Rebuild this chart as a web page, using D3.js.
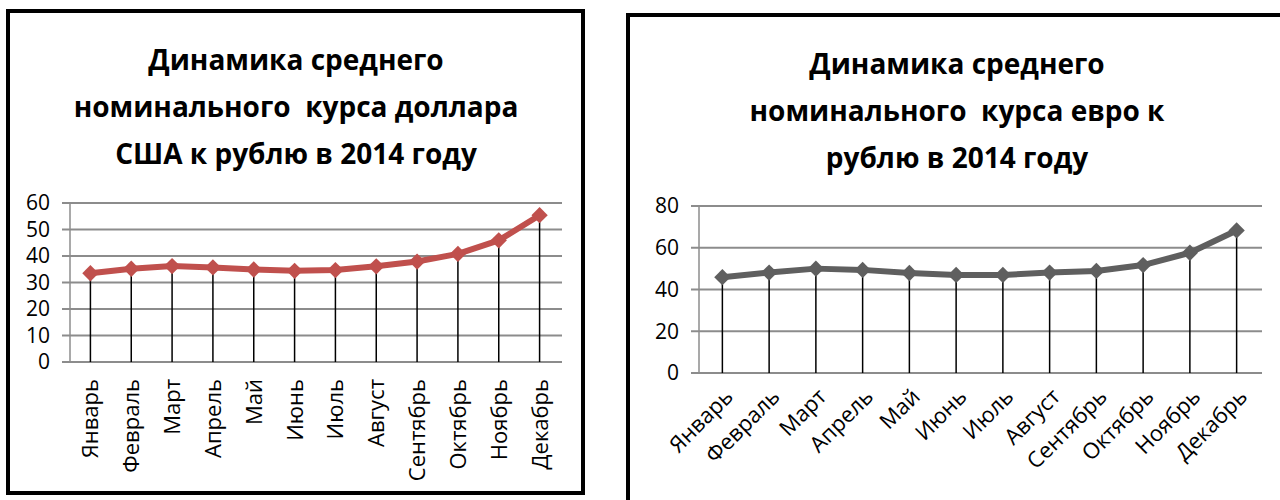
<!DOCTYPE html>
<html>
<head>
<meta charset="utf-8">
<script src="https://cdn.jsdelivr.net/npm/d3@7"></script>
<style>
  body { margin: 0; background: #fff; }
  svg { display: block; font-family: "Open Sans", sans-serif; }
</style>
</head>
<body>
<div id="chart"></div>
<script>
const months = ["Январь", "Февраль", "Март", "Апрель", "Май", "Июнь", "Июль", "Август", "Сентябрь", "Октябрь", "Ноябрь", "Декабрь"];
const usdValues = [33.5, 35.2, 36.2, 35.7, 34.9, 34.4, 34.7, 36.1, 37.9, 40.8, 45.9, 55.4];
const eurValues = [45.9, 48.1, 50.0, 49.4, 47.9, 47.0, 47.0, 48.1, 48.9, 51.7, 57.6, 68.3];
const usdTicks = [0, 10, 20, 30, 40, 50, 60];
const eurTicks = [0, 20, 40, 60, 80];
const usdTitle = ["Динамика среднего", "номинального  курса доллара", "США к рублю в 2014 году"];
const eurTitle = ["Динамика среднего", "номинального  курса евро к", "рублю в 2014 году"];

const svg = d3.select("#chart").append("svg")
    .attr("width", 1280)
    .attr("height", 500);

function drawPanel(opts) {
    const g = svg.append("g");

    // panel frame
    g.append("rect")
        .attr("x", opts.frame[0]).attr("y", opts.frame[1])
        .attr("width", opts.frame[2]).attr("height", opts.frame[3])
        .attr("fill", "#fff").attr("stroke", "#000").attr("stroke-width", 4);

    g.selectAll(".title").data(opts.title).enter()
        .append("text")
        .attr("class", "title")
        .attr("x", opts.titleX)
        .attr("y", (d, i) => opts.titleY + i * 47)
        .attr("text-anchor", "middle")
        .attr("font-size", 28)
        .attr("font-weight", "bold")
        .style("white-space", "pre")
        .text(d => d);

    const x = d3.scaleBand().domain(months).range([opts.x0, opts.x1]);
    const y = d3.scaleLinear().domain(opts.yDomain).range([opts.y0, opts.y1]);

    // gridlines
    g.selectAll(".grid").data(opts.ticks).enter()
        .append("line")
        .attr("x1", opts.x0 - 8).attr("x2", opts.x1 + 2)
        .attr("y1", d => y(d)).attr("y2", d => y(d))
        .attr("stroke", "#8c8c8c").attr("stroke-width", 2);

    // vertical axis
    g.append("line")
        .attr("x1", opts.x0).attr("x2", opts.x0)
        .attr("y1", y(opts.yDomain[0])).attr("y2", y(opts.yDomain[1]))
        .attr("stroke", "#8c8c8c").attr("stroke-width", 1.5);

    g.selectAll(".ylab").data(opts.ticks).enter()
        .append("text")
        .attr("x", opts.x0 - 20)
        .attr("y", d => y(d))
        .attr("dy", "0.35em")
        .attr("text-anchor", "end")
        .attr("font-size", 21)
        .text(d => d);

    const cx = d => x(d) + x.bandwidth() / 2;
    const data = months.map((m, i) => ({ m, v: opts.values[i] }));

    // drop lines
    g.selectAll(".drop").data(data).enter()
        .append("line")
        .attr("x1", d => cx(d.m)).attr("x2", d => cx(d.m))
        .attr("y1", d => y(d.v)).attr("y2", y(0))
        .attr("stroke", "#000").attr("stroke-width", 1.5);

    const line = d3.line().x(d => cx(d.m)).y(d => y(d.v));
    g.append("path")
        .datum(data)
        .attr("d", line)
        .attr("fill", "none")
        .attr("stroke", opts.color)
        .attr("stroke-width", 6)
        .attr("stroke-linejoin", "round");

    g.selectAll(".mark").data(data).enter()
        .append("path")
        .attr("d", d3.symbol().type(d3.symbolDiamond2).size(170))
        .attr("transform", d => `translate(${cx(d.m)},${y(d.v)})`)
        .attr("fill", opts.color);

    // month labels
    g.selectAll(".xlab").data(months).enter()
        .append("text")
        .attr("transform", d => opts.rotate === -90
            ? `translate(${cx(d) + 8},${y(0) + 17}) rotate(-90)`
            : `translate(${cx(d) + 12},${y(0) + 25}) rotate(-45)`)
        .attr("text-anchor", "end")
        .attr("font-size", 22)
        .text(d => d);
}

drawPanel({
    frame: [8, 11, 575, 482],
    title: usdTitle, titleX: 296, titleY: 70,
    x0: 70, x1: 560, y0: 362, y1: 203,
    yDomain: [0, 60], ticks: usdTicks,
    values: usdValues, color: "#c0504d", rotate: -90
});

drawPanel({
    frame: [628, 15, 680, 500],
    title: eurTitle, titleX: 957, titleY: 74,
    x0: 699, x1: 1260, y0: 373, y1: 206,
    yDomain: [0, 80], ticks: eurTicks,
    values: eurValues, color: "#5f5f5f", rotate: -45
});
</script>
</body>
</html>
